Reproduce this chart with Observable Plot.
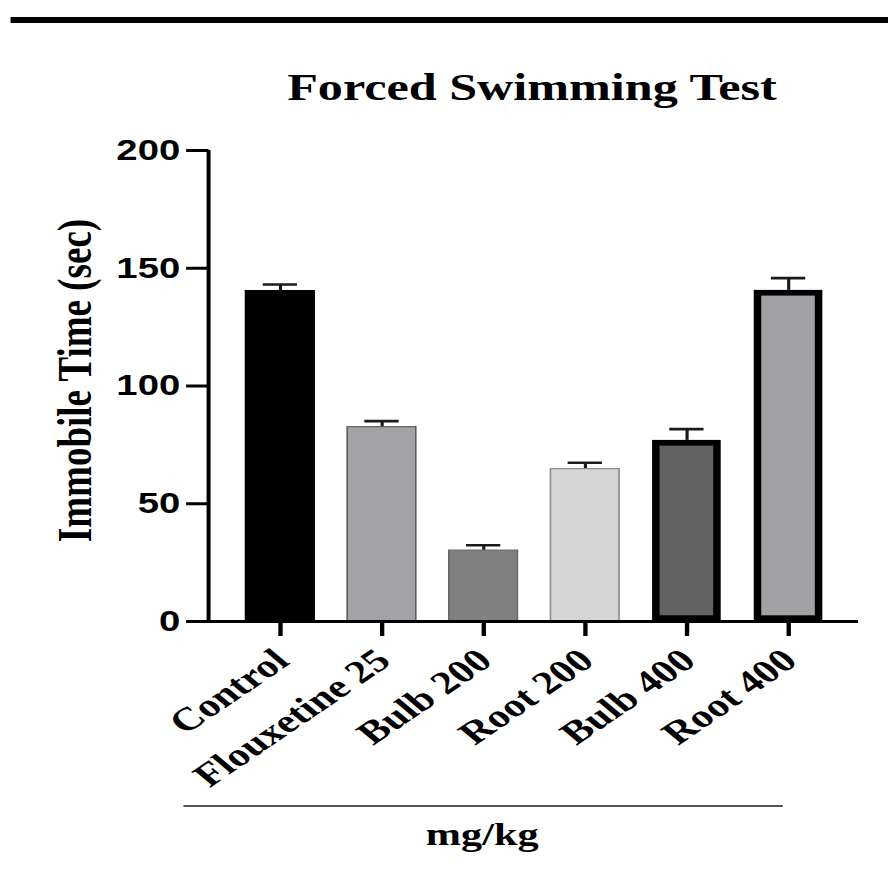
<!DOCTYPE html>
<html><head><meta charset="utf-8">
<script src="https://cdn.jsdelivr.net/npm/d3@7"></script>
<script src="https://cdn.jsdelivr.net/npm/@observablehq/plot@0.6"></script>
<style>
html,body{margin:0;padding:0;background:#fff;overflow:hidden;width:888px;height:871px;}
#page{position:absolute;left:0;top:0;width:673px;height:871px;transform:scaleX(1.32);transform-origin:0 0;}
#rule{position:absolute;left:7.6px;top:17px;width:665.4px;height:6px;background:#000;}
#title{position:absolute;left:103px;width:600px;top:68px;text-align:center;font-family:"Liberation Serif",serif;font-weight:bold;font-size:38px;line-height:38px;color:#000;white-space:nowrap;}
#chart{position:absolute;left:0;top:120px;}
#xline{position:absolute;left:138.6px;top:805px;width:454.6px;height:2px;background:#555;}
#xtitle{position:absolute;left:265.3px;width:200px;top:818px;text-align:center;font-family:"Liberation Serif",serif;font-weight:bold;font-size:32px;line-height:32px;color:#000;}
</style>
</head><body>
<div id="page">
  <div id="rule"></div>
  <div id="title"></div>
  <div id="chart"></div>
  <div id="xline"></div>
  <div id="xtitle"></div>
</div>
<script>
const chartTitle = "Forced Swimming Test";
const yTitle = "Immobile Time (sec)";
const xTitle = "mg/kg";
const groups = ["Control", "Flouxetine 25", "Bulb 200", "Root 200", "Bulb 400", "Root 400"];
const means = [140.3, 82.5, 30.1, 64.7, 76.9, 140.6];
const sems = [2.8, 2.6, 2.3, 2.7, 4.8, 5.2];
const yTicks = [0, 50, 100, 150, 200];
const thickBorderGroups = ["Bulb 400", "Root 400"];

const barFill = ["#000000", "#a3a2a7", "#808080", "#d5d5d5", "#626262", "#a2a1a6"];
const barStroke = ["#000000", "#5a5a5a", "#6a6a6a", "#8a8a8a", "#000000", "#000000"];

document.getElementById("title").textContent = chartTitle;
document.getElementById("xtitle").textContent = xTitle;

const data = groups.map((g, i) => ({group: g, mean: means[i], sem: sems[i], fill: barFill[i], stroke: barStroke[i]}));
const thin = data.filter(d => !thickBorderGroups.includes(d.group));
const thick = data.filter(d => thickBorderGroups.includes(d.group));

const serif = '"Liberation Serif", "Times New Roman", serif';
const sans = '"Liberation Sans", Arial, sans-serif';

const yAxisLine = (index, scales, values, dims) => {
  const l = document.createElementNS("http://www.w3.org/2000/svg", "line");
  const x = dims.marginLeft;
  l.setAttribute("x1", x); l.setAttribute("x2", x);
  l.setAttribute("y1", scales.y(yTicks[yTicks.length - 1]));
  l.setAttribute("y2", scales.y(0) + 1.5);
  l.setAttribute("stroke", "#000");
  l.setAttribute("stroke-width", 3);
  return l;
};

const chart = Plot.plot({
  width: 673,
  height: 670,
  marginTop: 30,
  marginBottom: 169,
  marginLeft: 158,
  marginRight: 23,
  style: {background: "transparent", color: "#000", overflow: "visible"},
  x: {domain: groups, paddingInner: 0.325, paddingOuter: 0.3375, label: null},
  y: {domain: [0, 200], label: null},
  color: {type: "identity"},
  marks: [
    Plot.ruleX(data, {x: "group", y1: "mean", y2: d => d.mean + d.sem, stroke: "#1a1a1a", strokeWidth: 2.4}),
    Plot.tickY(data, {x: "group", y: d => d.mean + d.sem, stroke: "#1a1a1a", strokeWidth: 2.6, insetLeft: 13, insetRight: 13}),
    Plot.barY(thin, {x: "group", y: "mean", fill: "fill", stroke: "stroke", strokeWidth: 1.2}),
    Plot.barY(thick, {x: "group", y: "mean", fill: "fill", stroke: "stroke", strokeWidth: 5.7, inset: 2.85}),
    Plot.ruleY([0], {stroke: "#000", strokeWidth: 3}),
    yAxisLine,
    Plot.axisY({ticks: yTicks, tickSize: 17, tickPadding: 5, strokeWidth: 3, fontSize: 29, fontFamily: sans, fontWeight: "bold", label: null}),
    Plot.axisX({tickSize: 15, strokeWidth: 3.3, tickFormat: () => "", label: null}),
    Plot.axisX({tickSize: 0, tickRotate: -42, tickPadding: 34, dx: 1, fontSize: 32.5, fontFamily: serif, fontWeight: "bold", label: null}),
    Plot.text([yTitle], {frameAnchor: "left", textAnchor: "middle", text: d => d, rotate: -90, dx: -101.2, dy: -5.5, fontSize: 37, fontFamily: serif, fontWeight: "bold", fill: "#000"})
  ]
});
document.getElementById("chart").appendChild(chart);
</script>
</body></html>
